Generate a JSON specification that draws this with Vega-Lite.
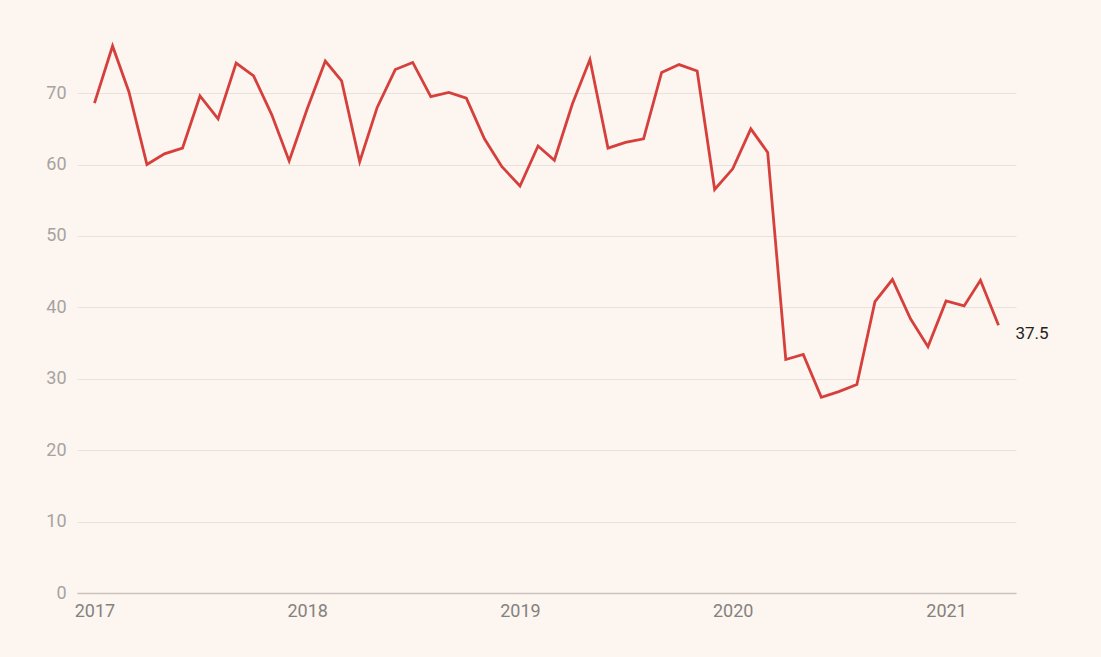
{
  "$schema": "https://vega.github.io/schema/vega-lite/v6.json",
  "width": 939,
  "height": 557,
  "autosize": {"type": "none"},
  "padding": {"left": 77, "top": 36, "right": 85, "bottom": 64},
  "background": "#fcf5f0",
  "config": {"view": {"stroke": null}, "font": "Roboto"},
  "data": {
    "values": [
      {"date": "2017-01-01", "value": 68.6},
      {"date": "2017-02-01", "value": 76.6},
      {"date": "2017-03-01", "value": 70.2},
      {"date": "2017-04-01", "value": 60.0},
      {"date": "2017-05-01", "value": 61.5},
      {"date": "2017-06-01", "value": 62.3},
      {"date": "2017-07-01", "value": 69.6},
      {"date": "2017-08-01", "value": 66.4},
      {"date": "2017-09-01", "value": 74.2},
      {"date": "2017-10-01", "value": 72.4},
      {"date": "2017-11-01", "value": 67.0},
      {"date": "2017-12-01", "value": 60.5},
      {"date": "2018-01-01", "value": 67.8},
      {"date": "2018-02-01", "value": 74.5},
      {"date": "2018-03-01", "value": 71.7},
      {"date": "2018-04-01", "value": 60.4},
      {"date": "2018-05-01", "value": 68.0},
      {"date": "2018-06-01", "value": 73.3},
      {"date": "2018-07-01", "value": 74.3},
      {"date": "2018-08-01", "value": 69.5},
      {"date": "2018-09-01", "value": 70.1},
      {"date": "2018-10-01", "value": 69.3},
      {"date": "2018-11-01", "value": 63.6},
      {"date": "2018-12-01", "value": 59.7},
      {"date": "2019-01-01", "value": 57.0},
      {"date": "2019-02-01", "value": 62.6},
      {"date": "2019-03-01", "value": 60.6},
      {"date": "2019-04-01", "value": 68.5},
      {"date": "2019-05-01", "value": 74.7},
      {"date": "2019-06-01", "value": 62.3},
      {"date": "2019-07-01", "value": 63.1},
      {"date": "2019-08-01", "value": 63.6},
      {"date": "2019-09-01", "value": 72.9},
      {"date": "2019-10-01", "value": 74.0},
      {"date": "2019-11-01", "value": 73.1},
      {"date": "2019-12-01", "value": 56.5},
      {"date": "2020-01-01", "value": 59.4},
      {"date": "2020-02-01", "value": 65.0},
      {"date": "2020-03-01", "value": 61.7},
      {"date": "2020-04-01", "value": 32.7},
      {"date": "2020-05-01", "value": 33.4},
      {"date": "2020-06-01", "value": 27.4},
      {"date": "2020-07-01", "value": 28.2},
      {"date": "2020-08-01", "value": 29.2},
      {"date": "2020-09-01", "value": 40.8},
      {"date": "2020-10-01", "value": 43.9},
      {"date": "2020-11-01", "value": 38.4},
      {"date": "2020-12-01", "value": 34.5},
      {"date": "2021-01-01", "value": 40.9},
      {"date": "2021-02-01", "value": 40.2},
      {"date": "2021-03-01", "value": 43.8},
      {"date": "2021-04-01", "value": 37.5}
    ]
  },
  "encoding": {
    "x": {
      "field": "date",
      "type": "temporal",
      "scale": {
        "type": "utc",
        "domain": [
          {"year": 2016, "month": 12, "date": 2, "utc": true},
          {"year": 2021, "month": 5, "date": 1, "utc": true}
        ]
      },
      "axis": {
        "title": null,
        "values": [
          {"year": 2017, "month": 1, "date": 1, "utc": true},
          {"year": 2018, "month": 1, "date": 1, "utc": true},
          {"year": 2019, "month": 1, "date": 1, "utc": true},
          {"year": 2020, "month": 1, "date": 1, "utc": true},
          {"year": 2021, "month": 1, "date": 1, "utc": true}
        ],
        "format": "%Y",
        "formatType": "utc",
        "grid": false,
        "ticks": false,
        "domain": true,
        "domainColor": "#c8c1bc",
        "domainWidth": 1.5,
        "labelFlush": false,
        "labelPadding": 9,
        "labelColor": "#85817e",
        "labelFontSize": 18
      }
    },
    "y": {
      "field": "value",
      "type": "quantitative",
      "scale": {"domain": [0, 78], "nice": false},
      "axis": {
        "title": null,
        "values": [0, 10, 20, 30, 40, 50, 60, 70],
        "grid": true,
        "gridColor": "#e9e2dc",
        "gridWidth": 1,
        "domain": false,
        "ticks": false,
        "labelPadding": 11,
        "labelColor": "#a7a3a0",
        "labelFontSize": 18
      }
    }
  },
  "layer": [
    {
      "mark": {"type": "line", "color": "#d6403c", "strokeWidth": 2.8}
    },
    {
      "transform": [{"filter": "utcyear(datum.date) === 2021 && utcmonth(datum.date) === 3"}],
      "mark": {"type": "text", "align": "left", "baseline": "middle", "dx": 17, "dy": 9, "fontSize": 17, "color": "#222222"},
      "encoding": {"text": {"field": "value", "type": "quantitative", "format": ".1f"}}
    }
  ]
}
